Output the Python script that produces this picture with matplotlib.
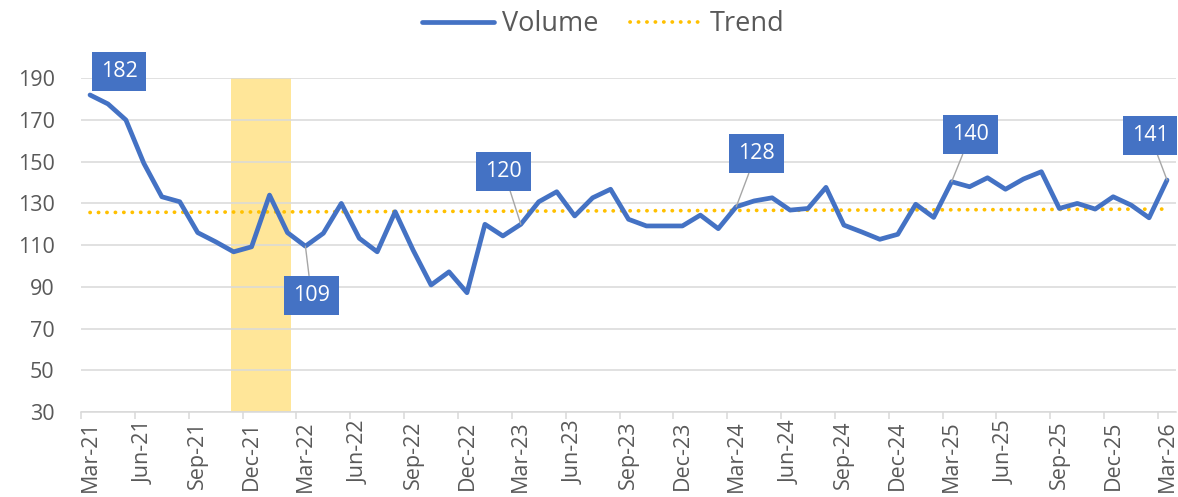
import numpy as np
import pandas as pd
import matplotlib
matplotlib.use("Agg")
import matplotlib.pyplot as plt

plt.rcParams['font.family'] = ['Open Sans', 'DejaVu Sans']

# ---- data ----
months = pd.date_range("2021-03-01", "2026-03-01", freq="MS")
volume = [182, 177.7, 170, 149.2, 133.2, 130.8, 116, 111.6, 106.8, 109.2,
          134, 116, 109.5, 115.7, 130, 113.3, 106.8, 126, 107.6, 90.9,
          97.2, 87.2, 120, 114.4, 120, 130.8, 135.6, 124, 132.7, 136.8,
          122.4, 119.2, 119.2, 119.2, 124.4, 117.9, 128.4, 131.2, 132.7, 126.8,
          127.6, 137.7, 119.6, 116.3, 112.8, 115.2, 129.6, 123.3, 140.4, 138,
          142.3, 136.8, 141.7, 145.2, 127.6, 130, 127.3, 133.2, 129.2, 123.1,
          141.2]
labelled_idx = [0, 12, 24, 36, 48, 60]
labelled_text = ["182", "109", "120", "128", "140", "141"]
shade_start, shade_end = 7.85, 11.2
y_ticks = list(range(30, 191, 20))

# ---- styling ----
BLUE = "#4472C4"
GOLD = "#FFC000"
SHADE = "#FFE699"
GRID = "#D9D9D9"
TXT = "#595959"

x = np.arange(len(volume))
vol = np.array(volume)
coef = np.polyfit(x, vol, 1)
trend = np.polyval(coef, x)

fig = plt.figure(figsize=(11.78, 4.97), dpi=100)
ax = fig.add_axes([0.0688, 0.171, 0.9295, 0.6715])

ax.axvspan(shade_start, shade_end, color=SHADE, zorder=0.5, lw=0)
ax.set_axisbelow(False)
for yv in y_ticks:
    ax.axhline(yv, color=GRID, lw=1.1, zorder=1)

ax.plot(x, vol, color=BLUE, lw=3.4, solid_capstyle='round', solid_joinstyle='round',
        zorder=3, label="Volume")
ax.plot(x, trend, color=GOLD, lw=2.7, linestyle=(0, (0.05, 2.2)), dash_capstyle='round',
        zorder=2.5, label="Trend")

ax.set_xlim(-0.5, 60.5)
ax.set_ylim(30, 190)

# ticks
major = x[::3]
ax.set_xticks(major)
ax.set_xticklabels([m.strftime("%b-%y") for m in months[::3]], rotation=90,
                   fontsize=15.5, color=TXT)
ax.set_xticks(major - 0.5, minor=True)
ax.tick_params(axis='x', which='major', length=0, pad=6)
ax.tick_params(axis='x', which='minor', length=5, width=1.1, color=GRID)
ax.set_yticks(y_ticks)
ax.set_yticklabels([str(v) for v in y_ticks], fontsize=15.5, color=TXT)
ax.tick_params(axis='y', length=0, pad=19)

for s in ['top', 'right', 'left']:
    ax.spines[s].set_visible(False)
ax.spines['bottom'].set_color(GRID)
ax.spines['bottom'].set_linewidth(1.1)

# data labels
offsets = [(29, 23.5), (6, -49), (-17, 53), (20, 53), (19, 47), (-17, 45)]
for i, t, off in zip(labelled_idx, labelled_text, offsets):
    ap = None if i == 0 else dict(arrowstyle='-', color="#A6A6A6", lw=1,
                                  shrinkA=0, shrinkB=0)
    ax.annotate(t, xy=(x[i], vol[i]), xytext=off, textcoords='offset pixels',
                ha='center', va='center', fontsize=15.5, color='white',
                bbox=dict(boxstyle='square,pad=0.42', fc=BLUE, ec='none'),
                arrowprops=ap, zorder=5, annotation_clip=False)

fig.legend(loc='center', bbox_to_anchor=(0.512, 0.951), ncol=2, frameon=False,
           fontsize=19.5, labelcolor=TXT, handlelength=2.65, handletextpad=0.3,
           columnspacing=1.15)

fig.savefig("out.png", dpi=100)
